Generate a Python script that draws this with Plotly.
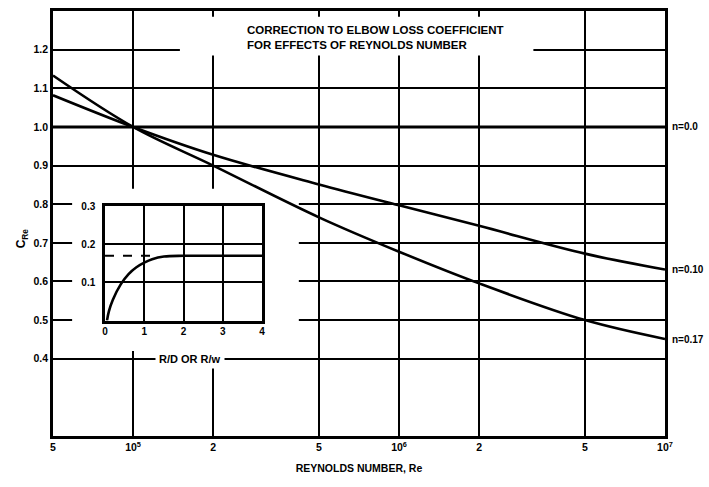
import plotly.graph_objects as go
import math

# Main chart data (Reynolds number correction)
re_vals = [5e4, 1e5, 2e5, 5e5, 1e6, 2e6, 5e6, 1e7]
c_n000 = [1.0, 1.0, 1.0, 1.0, 1.0, 1.0, 1.0, 1.0]
c_n010 = [1.082, 1.0, 0.928, 0.851, 0.797, 0.744, 0.672, 0.631]
c_n017 = [1.133, 1.0, 0.900, 0.766, 0.677, 0.595, 0.500, 0.451]

x_tickvals = [5e4, 1e5, 2e5, 5e5, 1e6, 2e6, 5e6, 1e7]
x_ticktext = ["5", "10<sup>5</sup>", "2", "5", "10<sup>6</sup>", "2", "5", "10<sup>7</sup>"]
y_tickvals = [0.4, 0.5, 0.6, 0.7, 0.8, 0.9, 1.0, 1.1, 1.2]
y_ticktext = ["0.4", "0.5", "0.6", "0.7", "0.8", "0.9", "1.0", "1.1", "1.2"]

# Inset data (n vs R/D)
rd_vals = [0.05, 0.1, 0.2, 0.4, 0.6, 0.8, 1.0, 1.2, 1.5, 2.0, 3.0, 4.0]
n_vals = [0.0, 0.025, 0.055, 0.095, 0.122, 0.14, 0.152, 0.161, 0.168, 0.17, 0.17, 0.17]
dash_x = [0.0, 1.3]
dash_y = [0.17, 0.17]

FONT = "Liberation Sans"
BLK = "black"

fig = go.Figure()

fig.add_trace(go.Scatter(x=re_vals, y=c_n000, mode="lines",
                         line=dict(color=BLK, width=3), showlegend=False, xaxis="x", yaxis="y"))
fig.add_trace(go.Scatter(x=re_vals, y=c_n010, mode="lines", line_shape="spline",
                         line=dict(color=BLK, width=2.6), showlegend=False, xaxis="x", yaxis="y"))
fig.add_trace(go.Scatter(x=re_vals, y=c_n017, mode="lines", line_shape="spline",
                         line=dict(color=BLK, width=2.6), showlegend=False, xaxis="x", yaxis="y"))

fig.add_trace(go.Scatter(x=rd_vals, y=n_vals, mode="lines", line_shape="spline",
                         line=dict(color=BLK, width=2.6), showlegend=False, xaxis="x2", yaxis="y2"))
fig.add_trace(go.Scatter(x=dash_x, y=dash_y, mode="lines",
                         line=dict(color=BLK, width=2, dash="dash"), showlegend=False, xaxis="x2", yaxis="y2"))

tickfont = dict(family=FONT, size=10.5, color=BLK, weight=700)

fig.update_layout(
    width=709, height=487,
    margin=dict(l=53, r=44, t=5, b=51),
    paper_bgcolor="white", plot_bgcolor="white",
    showlegend=False,
    xaxis=dict(type="log", range=[math.log10(5e4), 7], tickvals=x_tickvals, ticktext=x_ticktext,
               showgrid=True, gridcolor=BLK, gridwidth=2, showline=True, linecolor=BLK,
               linewidth=2.5, mirror=True, ticks="", tickfont=tickfont, zeroline=False,
               title=dict(text="REYNOLDS NUMBER, Re", font=dict(family=FONT, size=10.5, color=BLK, weight=700),
                          standoff=13)),
    yaxis=dict(range=[0.2, 1.3], tickvals=y_tickvals, ticktext=y_ticktext,
               showgrid=True, gridcolor=BLK, gridwidth=2, showline=True, linecolor=BLK,
               linewidth=2.5, mirror=True, ticks="", tickfont=tickfont, zeroline=False),
    xaxis2=dict(domain=[0.085, 0.3415], anchor="y2", range=[0, 4], tickvals=[0, 1, 2, 3, 4],
                showgrid=True, gridcolor=BLK, gridwidth=2, showline=True, linecolor=BLK,
                linewidth=2.5, mirror=True, ticks="", zeroline=False,
                tickfont=dict(family=FONT, size=10, color=BLK, weight=700)),
    yaxis2=dict(domain=[0.2715, 0.5406], anchor="x2", range=[0, 0.3], tickvals=[0.1, 0.2, 0.3],
                ticktext=["0.1", "0.2", "0.3"],
                showgrid=True, gridcolor=BLK, gridwidth=2, showline=True, linecolor=BLK,
                linewidth=2.5, mirror=True, ticks="", zeroline=False, ticklabelstandoff=5,
                tickfont=dict(family=FONT, size=10, color=BLK, weight=700)),
)

# White masks that interrupt the main grid (as in the original drawing)
fig.add_shape(type="rect", xref="x", yref="y", x0=5.9e4, x1=4.2e5, y0=0.42, y1=0.84,
              fillcolor="white", line=dict(width=0), layer="between")
fig.add_shape(type="rect", xref="x", yref="y", x0=1.5e5, x1=3.2e6, y0=1.185, y1=1.285,
              fillcolor="white", line=dict(width=0), layer="between")

# Title
fig.add_annotation(text="CORRECTION TO ELBOW LOSS COEFFICIENT<br>FOR EFFECTS OF REYNOLDS NUMBER",
                   xref="paper", yref="paper", x=0.3137, y=0.9385, xanchor="left", yanchor="middle",
                   align="left", showarrow=False,
                   font=dict(family=FONT, size=11.5, color=BLK, weight=700))

# Inset x-label
fig.add_annotation(text="R/D OR R/w", xref="paper", yref="y", x=0.2245, y=0.40,
                   xanchor="center", yanchor="middle", showarrow=False, bgcolor="white", borderpad=3,
                   font=dict(family=FONT, size=11, color=BLK, weight=700))

# Y title
fig.add_annotation(text="C<sub>Re</sub>", xref="paper", yref="paper", x=-0.05, y=0.466,
                   textangle=-90, showarrow=False, xanchor="center", yanchor="middle",
                   font=dict(family=FONT, size=12, color=BLK, weight=700))

# Curve labels
for lab, yv in [("n=0.0", c_n000[-1]), ("n=0.10", c_n010[-1]), ("n=0.17", c_n017[-1])]:
    fig.add_annotation(text=lab, xref="paper", yref="y", x=1.008, y=yv, xanchor="left",
                       yanchor="middle", showarrow=False,
                       font=dict(family=FONT, size=10, color=BLK, weight=700))

fig.write_html("out.html")
